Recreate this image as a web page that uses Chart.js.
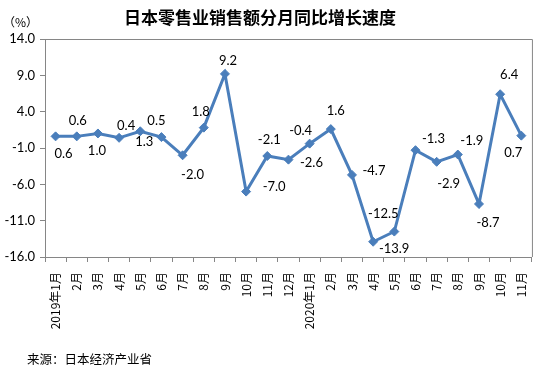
<!DOCTYPE html>
<html>
<head>
<meta charset="utf-8">
<script src="https://cdn.jsdelivr.net/npm/chart.js@4"></script>
<style>
    body { margin: 0; background: #fff; }
    #wrap { width: 546px; height: 374px; }
</style>
</head>
<body>
<div id="wrap"><canvas id="retail-chart" width="546" height="374"></canvas></div>
<script>
// Month labels (two years)
const months = ['2019年1月', '2月', '3月', '4月', '5月', '6月', '7月', '8月', '9月', '10月', '11月', '12月',
    '2020年1月', '2月', '3月', '4月', '5月', '6月', '7月', '8月', '9月', '10月', '11月'];

// Year-on-year growth, %
const growth = [0.6, 0.6, 1.0, 0.4, 1.3, 0.5, -2.0, 1.8, 9.2, -7.0, -2.1, -2.6,
    -0.4, 1.6, -4.7, -13.9, -12.5, -1.3, -2.9, -1.9, -8.7, 6.4, 0.7];

// Y axis ticks
const yTicks = [14.0, 9.0, 4.0, -1.0, -6.0, -11.0, -16.0];

const titleText = '日本零售业销售额分月同比增长速度';
const unitText = '（%）';
const sourceText = '来源：日本经济产业省';

// Where each value label sits relative to its point (px)
const labelOffsets = [
    [8, 17], [1, -16], [-1, 17], [7, -12], [4, 11], [-5, -16], [10, 20], [-3, -16], [3, -13],
    [28, -5], [2, -16], [23, 3], [-9, -13], [5, -18], [22, -4], [21, 7], [-11, -18],
    [18, -11], [12, 22], [14, -14], [9, 19], [9, -19], [-8, 17]
];

const axisGray = '#868686';
const lineBlue = '#4a7ebb';

// Frame, value labels and texts
const decorations = {
    id: 'decorations',
    afterDatasetsDraw(chart) {
        const ctx = chart.ctx;
        const area = chart.chartArea;
        ctx.save();
        ctx.strokeStyle = axisGray;
        ctx.lineWidth = 1;
        ctx.beginPath();
        ctx.moveTo(area.left, area.top + 0.5);
        ctx.lineTo(area.right + 0.5, area.top + 0.5);
        ctx.lineTo(area.right + 0.5, area.bottom);
        ctx.stroke();

        // value labels
        const meta = chart.getDatasetMeta(0);
        ctx.fillStyle = '#000';
        ctx.font = '13px Lato';
        ctx.textAlign = 'center';
        ctx.textBaseline = 'middle';
        meta.data.forEach((pt, i) => {
            const off = labelOffsets[i];
            ctx.fillText(growth[i].toFixed(1), pt.x + off[0], pt.y + off[1]);
        });

        // title, unit, source
        ctx.font = 'bold 17px "Noto Sans CJK SC"';
        ctx.fillText(titleText, 260, 18);
        ctx.font = '12px "Noto Sans CJK SC"';
        ctx.textAlign = 'left';
        ctx.fillText(unitText, 3, 22);
        ctx.font = '12.5px "Noto Sans CJK SC"';
        ctx.fillText(sourceText, 27, 359);
        ctx.restore();
    }
};

const myChart = new Chart(document.getElementById('retail-chart'), {
    type: 'line',
    data: {
        labels: months,
        datasets: [{
            data: growth,
            borderColor: lineBlue,
            backgroundColor: lineBlue,
            borderWidth: 3,
            pointStyle: 'rectRot',
            pointRadius: 4.5,
            pointBorderWidth: 1,
            tension: 0
        }]
    },
    options: {
        responsive: false,
        animation: false,
        layout: { padding: { left: 0, top: 39, right: 12, bottom: 0 } },
        plugins: {
            legend: { display: false },
            tooltip: { enabled: false }
        },
        scales: {
            x: {
                offset: true,
                grid: {
                    offset: true,
                    drawOnChartArea: false,
                    tickLength: 5,
                    color: axisGray
                },
                border: { color: axisGray },
                ticks: {
                    autoSkip: false,
                    maxRotation: 90,
                    minRotation: 90,
                    padding: 10,
                    color: '#000',
                    font: { family: '"Noto Sans CJK SC"', size: 12 }
                },
                afterFit: scale => { scale.height = 117; }
            },
            y: {
                min: -16,
                max: 14,
                afterBuildTicks: scale => {
                    scale.ticks = yTicks.map(v => ({ value: v }));
                },
                grid: {
                    drawOnChartArea: false,
                    tickLength: 5,
                    color: axisGray
                },
                border: { color: axisGray },
                ticks: {
                    padding: 5,
                    color: '#000',
                    font: { family: 'Lato', size: 13 },
                    callback: v => Number(v).toFixed(1)
                },
                afterFit: scale => { scale.width = 45; }
            }
        }
    },
    plugins: [decorations]
});
</script>
</body>
</html>
